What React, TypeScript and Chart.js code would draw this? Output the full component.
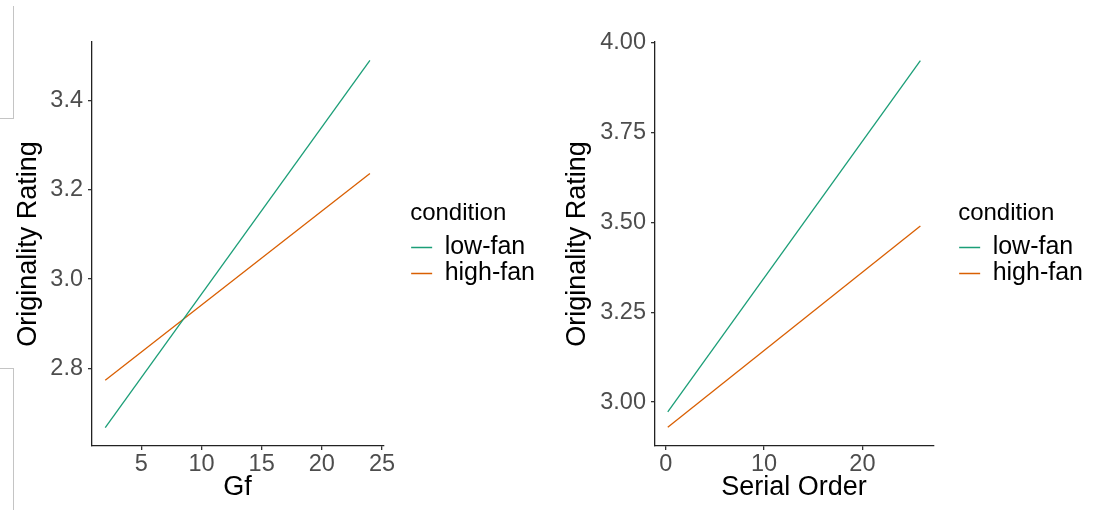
import React, { useEffect, useRef } from "react";
import { Chart, registerables } from "chart.js";

Chart.register(...registerables);

// ---- data ----
const conditions = ["low-fan", "high-fan"];
const conditionColors = ["#1b9e77", "#d95f02"];

const gfX = [2, 24];
const gfLowFan = [2.668, 3.489];
const gfHighFan = [2.774, 3.236];
const gfTicks = [5, 10, 15, 20, 25];
const gfRatingTicks = [2.8, 3.0, 3.2, 3.4];

const serialX = [0.2, 25.9];
const serialLowFan = [2.973, 3.95];
const serialHighFan = [2.93, 3.49];
const serialTicks = [0, 10, 20];
const serialRatingTicks = [3.0, 3.25, 3.5, 3.75, 4.0];

const FONT = "'Liberation Sans', Arial, Helvetica, sans-serif";
const CANVAS_W = 850;

type PanelSpec = {
  xs: number[];
  series: number[][];
  xTicks: number[];
  yTicks: number[];
  yDecimals: number;
  xMin: number;
  xMax: number;
  yMin: number;
  yMax: number;
  xTitle: string;
  yAxisWidth: number;
  yTitlePad: number;
  gapWidth: number;
  rightPad: number;
};

function buildConfig(p: PanelSpec): any {
  return {
    type: "line",
    data: {
      datasets: p.series.map((vals, k) => ({
        label: conditions[k],
        data: p.xs.map((x, i) => ({ x, y: vals[i] })),
        borderColor: conditionColors[k],
        backgroundColor: conditionColors[k],
        borderWidth: 1.3,
        pointRadius: 0,
        pointHoverRadius: 0,
        fill: false,
        tension: 0,
      })),
    },
    options: {
      animation: false,
      responsive: false,
      maintainAspectRatio: false,
      events: [],
      layout: { padding: { top: 42, right: p.rightPad, bottom: 0, left: 0 } },
      plugins: {
        tooltip: { enabled: false },
        legend: {
          position: "right",
          align: "center",
          fullSize: false,
          title: {
            display: true,
            text: "condition",
            color: "#000",
            position: "start",
            font: { size: 24, family: FONT },
            padding: { top: 0, bottom: 4.2 },
          },
          labels: {
            usePointStyle: true,
            pointStyle: "line",
            pointStyleWidth: 21,
            padding: 1,
            color: "#000",
            font: { size: 25, family: FONT },
          },
        },
      },
      scales: {
        x: {
          type: "linear",
          min: p.xMin,
          max: p.xMax,
          afterBuildTicks: (s: any) => {
            s.ticks = p.xTicks.map((v) => ({ value: v }));
          },
          afterFit: (s: any) => {
            s.height = 64;
          },
          grid: {
            display: true,
            drawOnChartArea: false,
            drawTicks: true,
            tickLength: 4,
            color: "#333",
            lineWidth: 1.3,
          },
          border: { display: true, color: "#222", width: 1.3 },
          ticks: {
            color: "#4d4d4d",
            font: { size: 23.5, family: FONT },
            padding: 0,
            maxRotation: 0,
            autoSkip: false,
            callback: (v: number) => String(v),
          },
          title: {
            display: true,
            text: p.xTitle,
            color: "#000",
            font: { size: 27, family: FONT },
            padding: { top: 0, bottom: 6.2 },
          },
        },
        y: {
          type: "linear",
          min: p.yMin,
          max: p.yMax,
          afterBuildTicks: (s: any) => {
            s.ticks = p.yTicks.map((v) => ({ value: v }));
          },
          afterFit: (s: any) => {
            s.width = p.yAxisWidth;
          },
          grid: {
            display: true,
            drawOnChartArea: false,
            drawTicks: true,
            tickLength: 4,
            color: "#333",
            lineWidth: 1.3,
          },
          border: { display: true, color: "#222", width: 1.3 },
          ticks: {
            color: "#4d4d4d",
            font: { size: 23.5, family: FONT },
            padding: 5,
            autoSkip: false,
            callback: (v: number) => Number(v).toFixed(p.yDecimals),
          },
          title: {
            display: true,
            text: "Originality Rating",
            color: "#000",
            font: { size: 27, family: FONT },
            padding: { top: p.yTitlePad, bottom: 0 },
          },
        },
        gap: {
          type: "linear",
          position: "right",
          display: true,
          grid: { display: false },
          border: { display: false },
          ticks: { display: false },
          title: { display: false },
          afterFit: (s: any) => {
            s.width = p.gapWidth;
          },
        },
      },
    },
  };
}

function Panel({ spec, left, width }: { spec: PanelSpec; left: number; width: number }) {
  const ref = useRef<HTMLCanvasElement | null>(null);
  useEffect(() => {
    if (!ref.current) return;
    const chart = new Chart(ref.current, buildConfig(spec));
    return () => chart.destroy();
  }, []);
  return (
    <canvas
      ref={ref}
      width={width}
      height={510}
      style={{ position: "absolute", left, top: 0, width, height: 510 }}
    />
  );
}

// left panel canvas spans page x -295..555, right panel canvas 255..1105
const leftCanvasX = 555 - CANVAS_W;
const rightCanvasX = 1105 - CANVAS_W;

const leftSpec: PanelSpec = {
  xs: gfX,
  series: [gfLowFan, gfHighFan],
  xTicks: gfTicks,
  yTicks: gfRatingTicks,
  yDecimals: 1,
  xMin: 0.9,
  xMax: 25.1,
  yMin: 2.627,
  yMax: 3.53,
  xTitle: "Gf",
  yAxisWidth: 92 - leftCanvasX,
  yTitlePad: 12.3 - leftCanvasX,
  gapWidth: 27,
  rightPad: 10,
};

const rightSpec: PanelSpec = {
  xs: serialX,
  series: [serialLowFan, serialHighFan],
  xTicks: serialTicks,
  yTicks: serialRatingTicks,
  yDecimals: 2,
  xMin: -1.1,
  xMax: 27.2,
  yMin: 2.878,
  yMax: 4.002,
  xTitle: "Serial Order",
  yAxisWidth: 655 - rightCanvasX,
  yTitlePad: 561 - rightCanvasX,
  gapWidth: 25,
  rightPad: 12,
};

export default function App() {
  return (
    <div
      style={{
        position: "fixed",
        left: 0,
        top: 0,
        width: 1105,
        height: 510,
        background: "#fff",
        overflow: "hidden",
      }}
    >
      <div
        style={{
          position: "absolute",
          left: 0,
          top: 6,
          width: 13,
          height: 112,
          borderRight: "1px solid #c4c4c4",
          borderBottom: "1px solid #c4c4c4",
        }}
      />
      <div
        style={{
          position: "absolute",
          left: 0,
          top: 368,
          width: 13,
          height: 142,
          borderRight: "1px solid #c4c4c4",
          borderTop: "1px solid #c4c4c4",
        }}
      />
      <Panel spec={leftSpec} left={leftCanvasX} width={CANVAS_W} />
      <Panel spec={rightSpec} left={rightCanvasX} width={CANVAS_W} />
    </div>
  );
}
